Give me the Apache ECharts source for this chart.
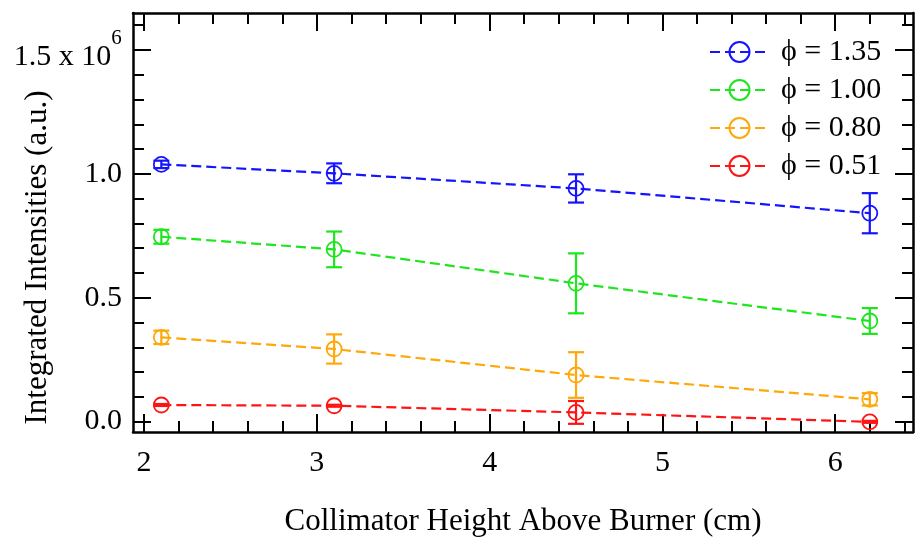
<!DOCTYPE html>
<html>
<head>
<meta charset="utf-8">
<script src="https://cdn.jsdelivr.net/npm/echarts@6/dist/echarts.min.js"></script>
<style>
html,body{margin:0;padding:0;background:#fff;}
#c{width:915px;height:538px;}
</style>
</head>
<body>
<div id="c"></div>
<script>
// ---- data (integrated intensities, a.u.) ----
const heights = [2.1, 3.1, 4.5, 6.2];
const seriesNames = ['ϕ = 1.35', 'ϕ = 1.00', 'ϕ = 0.80', 'ϕ = 0.51'];
const phi135 = [1038000, 1002000, 941000, 841000];
const phi100 = [746000, 695000, 558000, 406000];
const phi080 = [340000, 293000, 188000, 90000];
const phi051 = [67000, 64000, 37000, -1000];
const err135 = [15000, 40000, 57000, 81000];
const err100 = [28000, 72000, 121000, 52000];
const err080 = [27000, 59000, 92000, 25000];
const err051 = [4000, 4000, 46000, 4000];
const xMajorTicks = [2, 3, 4, 5, 6];
const xMinorTicks = [2.2, 2.4, 2.6, 2.8, 3.2, 3.4, 3.6, 3.8, 4.2, 4.4, 4.6, 4.8, 5.2, 5.4, 5.6, 5.8, 6.2, 6.4];
const yMajorTicks = [0, 500000, 1000000, 1500000];
const yMinorTicks = [100000, 200000, 300000, 400000, 600000, 700000, 800000, 900000, 1100000, 1200000, 1300000, 1400000, 1600000];

const colors = ['#1414ff', '#1ee61e', '#ffa80a', '#ff1414'];
const values = [phi135, phi100, phi080, phi051];
const errors = [err135, err100, err080, err051];

const FONT = "'Liberation Serif', 'Times New Roman', serif";
const xMin = 1.936, xMax = 6.45;
const yMin = -42000, yMax = 1649000;
const gridRect = {left: 133, right: 2, top: 13, bottom: 106, containLabel: false, outerBoundsMode: 'none'};

const chart = echarts.init(document.getElementById('c'));

function xAx(gridIndex, position, ticks, len, showLine, showLabel) {
  return {
    type: 'value', gridIndex, position, min: xMin, max: xMax,
    axisLine: {show: showLine, onZero: false, lineStyle: {color: '#000', width: 2.5}},
    axisTick: {show: true, inside: true, length: len, customValues: ticks, lineStyle: {color: '#000', width: 2}},
    axisLabel: {show: showLabel, customValues: ticks, fontFamily: FONT, fontSize: 30, color: '#000', margin: 16},
    splitLine: {show: false}
  };
}
function yAx(gridIndex, position, ticks, len, showLine, showLabel) {
  return {
    type: 'value', gridIndex, position, min: yMin, max: yMax,
    axisLine: {show: showLine, onZero: false, lineStyle: {color: '#000', width: 2.5}},
    axisTick: {show: true, inside: true, length: len, customValues: ticks, lineStyle: {color: '#000', width: 2}},
    axisLabel: {
      show: showLabel, customValues: ticks, fontFamily: FONT, fontSize: 30, color: '#000', margin: 11,
      formatter: function (v) {
        const m = v / 1e6;
        if (Math.abs(m - 1.5) < 1e-9) return '{a|1.5 x 10}{b|6}{c| }';
        return m.toFixed(1);
      },
      rich: {
        a: {fontFamily: FONT, fontSize: 30, lineHeight: 30, color: '#000', verticalAlign: 'bottom'},
        b: {fontFamily: FONT, fontSize: 21, lineHeight: 20, color: '#000', verticalAlign: 'top'},
        c: {fontFamily: FONT, fontSize: 1, lineHeight: 44, verticalAlign: 'middle'}
      }
    },
    splitLine: {show: false}
  };
}

const xAxes = [
  Object.assign(xAx(0, 'bottom', xMajorTicks, 18, true, true), {
    name: 'Collimator Height Above Burner (cm)', nameLocation: 'middle', nameGap: 74, nameMoveOverlap: false,
    nameTextStyle: {fontFamily: FONT, fontSize: 31, color: '#000'}
  }),
  xAx(0, 'top', xMajorTicks, 18, true, false),
  xAx(1, 'bottom', xMinorTicks, 11, false, false),
  xAx(1, 'top', xMinorTicks, 11, false, false)
];
const yAxes = [
  Object.assign(yAx(0, 'left', yMajorTicks, 18, true, true), {
    name: 'Integrated Intensities (a.u.)', nameLocation: 'middle', nameGap: 80, nameMoveOverlap: false,
    nameTextStyle: {fontFamily: FONT, fontSize: 31, color: '#000', padding: [0, 70, 0, 0]}
  }),
  yAx(0, 'right', yMajorTicks, 18, true, false),
  yAx(1, 'left', yMinorTicks, 11, false, false),
  yAx(1, 'right', yMinorTicks, 11, false, false)
];

const series = [];
seriesNames.forEach(function (name, i) {
  series.push({
    name: name, type: 'line', xAxisIndex: 0, yAxisIndex: 0,
    data: heights.map(function (h, j) { return [h, values[i][j]]; }),
    symbol: 'circle', symbolSize: 15,
    itemStyle: {color: 'rgba(0,0,0,0)', borderColor: colors[i], borderWidth: 1.8},
    lineStyle: {color: colors[i], width: 2.2, type: [10, 5]},
    emphasis: {disabled: true}, animation: false, z: 3
  });
  series.push({
    name: 'err' + i, type: 'custom', xAxisIndex: 0, yAxisIndex: 0,
    data: heights.map(function (h, j) { return [h, values[i][j], errors[i][j]]; }),
    renderItem: function (params, api) {
      const x = api.value(0), y = api.value(1), e = api.value(2);
      const t = api.coord([x, y + e]), b = api.coord([x, y - e]);
      const hw = 8;
      const st = {stroke: colors[i], lineWidth: 2.2};
      return {
        type: 'group', children: [
          {type: 'line', shape: {x1: t[0], y1: t[1], x2: b[0], y2: b[1]}, style: st},
          {type: 'line', shape: {x1: t[0] - hw, y1: t[1], x2: t[0] + hw, y2: t[1]}, style: st},
          {type: 'line', shape: {x1: b[0] - hw, y1: b[1], x2: b[0] + hw, y2: b[1]}, style: st}
        ]
      };
    },
    animation: false, z: 2, silent: true
  });
});

chart.setOption({
  animation: false,
  backgroundColor: '#fff',
  grid: [Object.assign({}, gridRect), Object.assign({}, gridRect)],
  xAxis: xAxes,
  yAxis: yAxes,
  legend: {
    data: seriesNames, orient: 'vertical', left: 709, top: 37,
    itemWidth: 59, itemHeight: 25, itemGap: 8,
    textStyle: {fontFamily: FONT, fontSize: 30, color: '#000', padding: [0, 0, 0, 7], lineHeight: 30},
    padding: 0, selectedMode: false
  },
  series: series
});
</script>
</body>
</html>
